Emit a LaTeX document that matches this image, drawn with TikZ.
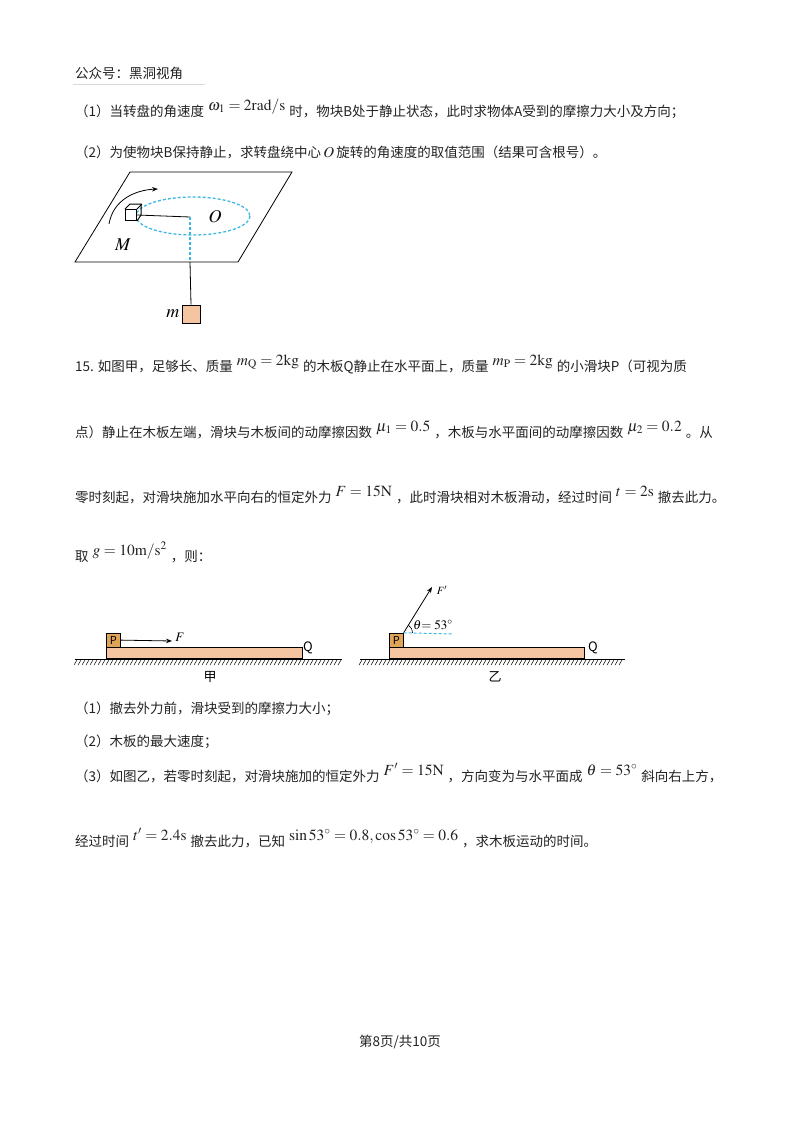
\documentclass[tikz,border=0pt]{standalone}
\usepackage{mathptmx}
\usepackage[no-math]{fontspec}
\setmainfont{Noto Sans CJK SC}
\usepackage{xcolor}
\usepackage{tikz}
\usetikzlibrary{arrows.meta}
\definecolor{CF5C4A0}{HTML}{F5C4A0}
\definecolor{CE0A458}{HTML}{E0A458}
\definecolor{C3DB8E0}{HTML}{3DB8E0}
\definecolor{C222222}{HTML}{222222}
\newcommand{\up}[1]{\hspace{4pt}\raisebox{6pt}{\fontsize{15.5}{17}\selectfont #1}\hspace{4pt}}
\begin{document}
\begin{tikzpicture}[x=1pt,y=-1pt,inner sep=0pt,
  txt/.style={anchor=base west,font=\fontsize{13.5}{15}\selectfont,text=C222222},
  lbl/.style={font=\fontsize{13}{14}\selectfont},
  board/.style={fill=CF5C4A0,draw,line width=0.6pt},
  block/.style={fill=CE0A458,draw,line width=0.6pt},
  bluedash/.style={C3DB8E0,dash pattern=on 3pt off 2pt,line width=1.3pt},
  arr/.style={-{Stealth[length=6pt]},line width=0.8pt}]
\useasboundingbox (0,0) rectangle (800,1132);

% question text
\node (t0) [txt] at (75,78) {公众号：黑洞视角};
\draw [gray!30,line width=0.6pt] (73,84) -- (205,84);
\node (t1) [txt] at (75,116) {（1）当转盘的角速度\up{$\omega_1=2\mathrm{rad/s}$}时，物块B处于静止状态，此时求物体A受到的摩擦力大小及方向；};
\node (t2) [txt] at (75,157) {（2）为使物块B保持静止，求转盘绕中心\,{\fontsize{15}{16}\selectfont$O$}\,旋转的角速度的取值范围（结果可含根号）。};

% turntable
\draw [line width=0.8pt] (130,172) -- (292,172) -- (238,262) -- (75,262) -- cycle;
\draw [bluedash] (193,216) ellipse [x radius=57,y radius=19];
\node (n0) [draw,fill=white,line width=0.9pt,minimum size=11pt] at (131,215) {};
\draw [line width=0.9pt] (n0.north west) -- ++(5,-5) -- ++(11,0) -- ++(0,11) -- (n0.south east);
\draw [line width=0.9pt] (n0.north east) -- ++(5,-5);
\coordinate (c0) at (190,217);
\coordinate (c1) at (190,262);
\node (n1) [fill=CF5C4A0,draw,line width=0.8pt,minimum size=18pt] at (191,314) {};
\draw [line width=0.8pt] (n0.east) -- (c0);
\draw [bluedash] (c0) -- (c1);
\draw [line width=0.8pt] (c1) -- (n1.north);
\node (l0) [font=\fontsize{18}{19}\selectfont] at (215,217) {$O$};
\node (l1) [font=\fontsize{18}{19}\selectfont] at (123,245) {$M$};
\node (l2) [font=\fontsize{18}{19}\selectfont,anchor=east] at (n1.west) {$m\,$};
\draw [arr] (109,224) .. controls (113,200) and (135,190) .. (158,189);

% problem 15
\node (t3) [txt] at (75,371) {15. 如图甲，足够长、质量\up{$m_{\mathrm Q}=2\mathrm{kg}$}的木板Q静止在水平面上，质量\up{$m_{\mathrm P}=2\mathrm{kg}$}的小滑块P（可视为质};
\node (t4) [txt] at (75,437) {点）静止在木板左端，滑块与木板间的动摩擦因数\up{$\mu_1=0.5$}，木板与水平面间的动摩擦因数\up{$\mu_2=0.2$}。从};
\node (t5) [txt] at (75,502) {零时刻起，对滑块施加水平向右的恒定外力\up{$F=15\mathrm{N}$}，此时滑块相对木板滑动，经过时间\up{$t=2\mathrm{s}$}撤去此力。};
\node (t6) [txt] at (75,561) {取\up{$g=10\mathrm{m/s^2}$}，则：};

% figure jia
\draw [line width=0.7pt] (75,659) -- (342,659);
\foreach \x in {77,81,...,341} \draw [line width=0.5pt] (\x,660) -- ++(-3,5);
\node (n2) [board,minimum width=196pt,minimum height=11pt,anchor=south west] at (106,659) {};
\node (n3) [block,minimum size=14pt,anchor=south west,font=\fontsize{11}{12}\selectfont] at (n2.north west) {P};
\coordinate (c2) at (172,641);
\draw [arr] (n3.east) -- (c2);
\node (l3) [lbl] at (180,637) {$F$};
\node (l4) [lbl] at (308,648) {Q};
\node (l5) [lbl] at (210,677) {甲};

% figure yi
\draw [line width=0.7pt] (360,659) -- (625,659);
\foreach \x in {362,366,...,624} \draw [line width=0.5pt] (\x,660) -- ++(-3,5);
\node (n4) [board,minimum width=195pt,minimum height=11pt,anchor=south west] at (389,659) {};
\node (n5) [block,minimum size=14pt,anchor=south west,font=\fontsize{11}{12}\selectfont] at (n4.north west) {P};
\coordinate (c3) at (432,587);
\coordinate (c4) at (452,634);
\draw [arr] (n5.north east) -- (c3);
\draw [bluedash,line width=1pt] (n5.north east) -- (c4);
\draw [line width=0.6pt] ([xshift=9pt]n5.north east) arc [start angle=0,end angle=-58,radius=9];
\node (l6) [lbl,font=\fontsize{11}{12}\selectfont] at (442,590) {$F'$};
\node (l7) [lbl] at (433,625) {$\theta\mathrm{=53^\circ}$};
\node (l8) [lbl] at (593,648) {Q};
\node (l9) [lbl] at (495,677) {乙};

% sub-questions
\node (t7) [txt] at (75,713) {（1）撤去外力前，滑块受到的摩擦力大小；};
\node (t8) [txt] at (75,746) {（2）木板的最大速度；};
\node (t9) [txt] at (75,781) {（3）如图乙，若零时刻起，对滑块施加的恒定外力\up{$F'=15\mathrm{N}$}，方向变为与水平面成\up{$\theta=53^\circ$}斜向右上方，};
\node (t10) [txt] at (75,846) {经过时间\up{$t'=2.4\mathrm{s}$}撤去此力，已知\up{$\sin53^\circ=0.8,\cos53^\circ=0.6$}，求木板运动的时间。};

\node (t11) [txt,anchor=base] at (400,1046) {第8页/共10页};
\end{tikzpicture}
\end{document}
